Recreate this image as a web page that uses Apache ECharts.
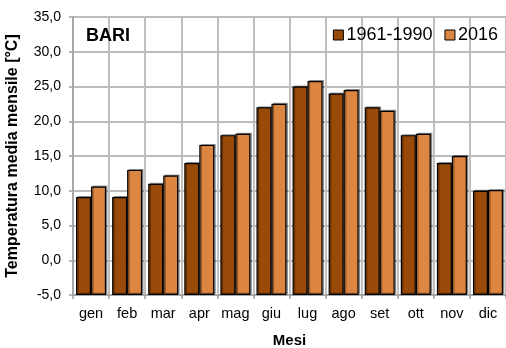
<!DOCTYPE html>
<html>
<head>
<meta charset="utf-8">
<script src="https://cdn.jsdelivr.net/npm/echarts@6/dist/echarts.min.js"></script>
<style>
  html, body { margin: 0; padding: 0; background: #fff; }
  #chart { width: 506px; height: 348px; }
</style>
</head>
<body>
<div id="chart"></div>
<script>
// Monthly mean temperature in Bari: 1961-1990 normals vs. 2016
const months = ['gen', 'feb', 'mar', 'apr', 'mag', 'giu', 'lug', 'ago', 'set', 'ott', 'nov', 'dic'];
const normals = [9.1, 9.1, 11.0, 14.0, 18.0, 22.0, 25.0, 24.0, 22.0, 18.0, 14.0, 10.0];
const year2016 = [10.6, 13.0, 12.2, 16.6, 18.2, 22.5, 25.8, 24.5, 21.5, 18.2, 15.0, 10.1];
const seriesNames = ['1961-1990', '2016'];
const yTicks = { min: -5, max: 35, step: 5 };

const FONT = 'Liberation Sans, Arial, sans-serif';
const fmt = v => v.toFixed(1).replace('.', ',');

const chart = echarts.init(document.getElementById('chart'), null, { renderer: 'canvas' });

const barStyle = color => ({
  color: color,
  borderColor: '#000',
  borderWidth: 1.2,
  shadowColor: 'rgba(0,0,0,0.35)',
  shadowOffsetX: 1.5,
  shadowOffsetY: -1,
  shadowBlur: 0
});

chart.setOption({
  animation: false,
  backgroundColor: '#fff',
  textStyle: { fontFamily: FONT },
  grid: { left: 73, right: 0, top: 17, bottom: 53, containLabel: false, outerBoundsMode: 'none' },
  title: {
    text: 'BARI',
    left: 81, top: 22,
    textStyle: { fontFamily: FONT, fontSize: 18, fontWeight: 'bold', color: '#000' }
  },
  legend: {
    right: 3, top: 21,
    itemWidth: 10, itemHeight: 10, itemGap: 12,
    textStyle: { fontFamily: FONT, fontSize: 18, color: '#000', padding: [0, 0, 0, -2] },
    data: seriesNames.map((n, i) => ({
      name: n,
      icon: 'rect',
      itemStyle: { borderColor: '#000', borderWidth: 1, color: i === 0 ? '#994a08' : '#dd8642' }
    }))
  },
  xAxis: {
    type: 'category',
    data: months,
    boundaryGap: true,
    name: 'Mesi',
    nameLocation: 'middle',
    nameGap: 38,
    nameTextStyle: { fontFamily: FONT, fontSize: 15, fontWeight: 'bold', color: '#000' },
    axisLine: { show: true, onZero: false, lineStyle: { color: '#a0a0a0', width: 1.5 } },
    axisTick: { show: true, length: 4, interval: 0, alignWithLabel: false, lineStyle: { color: '#a0a0a0', width: 1.5 } },
    axisLabel: { fontFamily: FONT, fontSize: 14.5, color: '#000', margin: 11, interval: 0 },
    splitLine: { show: true, interval: 0, lineStyle: { color: '#c0c0c0', width: 2 } }
  },
  yAxis: {
    type: 'value',
    min: yTicks.min,
    max: yTicks.max,
    interval: yTicks.step,
    startValue: yTicks.min,
    name: 'Temperatura media mensile [°C]',
    nameLocation: 'middle',
    nameGap: 52,
    nameTextStyle: { fontFamily: FONT, fontSize: 16, fontWeight: 'bold', color: '#000' },
    axisLine: { show: true, lineStyle: { color: '#a0a0a0', width: 1.5 } },
    axisTick: { show: true, length: 4, lineStyle: { color: '#a0a0a0', width: 1.5 } },
    axisLabel: { fontFamily: FONT, fontSize: 14, color: '#000', margin: 12, formatter: fmt },
    splitLine: { show: true, lineStyle: { color: '#a6a6a6', width: 1.5 } }
  },
  series: [
    {
      name: seriesNames[0],
      type: 'bar',
      data: normals,
      barWidth: 15,
      barGap: '0%',
      itemStyle: barStyle('#994a08')
    },
    {
      name: seriesNames[1],
      type: 'bar',
      data: year2016,
      barWidth: 15,
      barGap: '0%',
      itemStyle: barStyle('#dd8642')
    }
  ]
});
</script>
</body>
</html>
